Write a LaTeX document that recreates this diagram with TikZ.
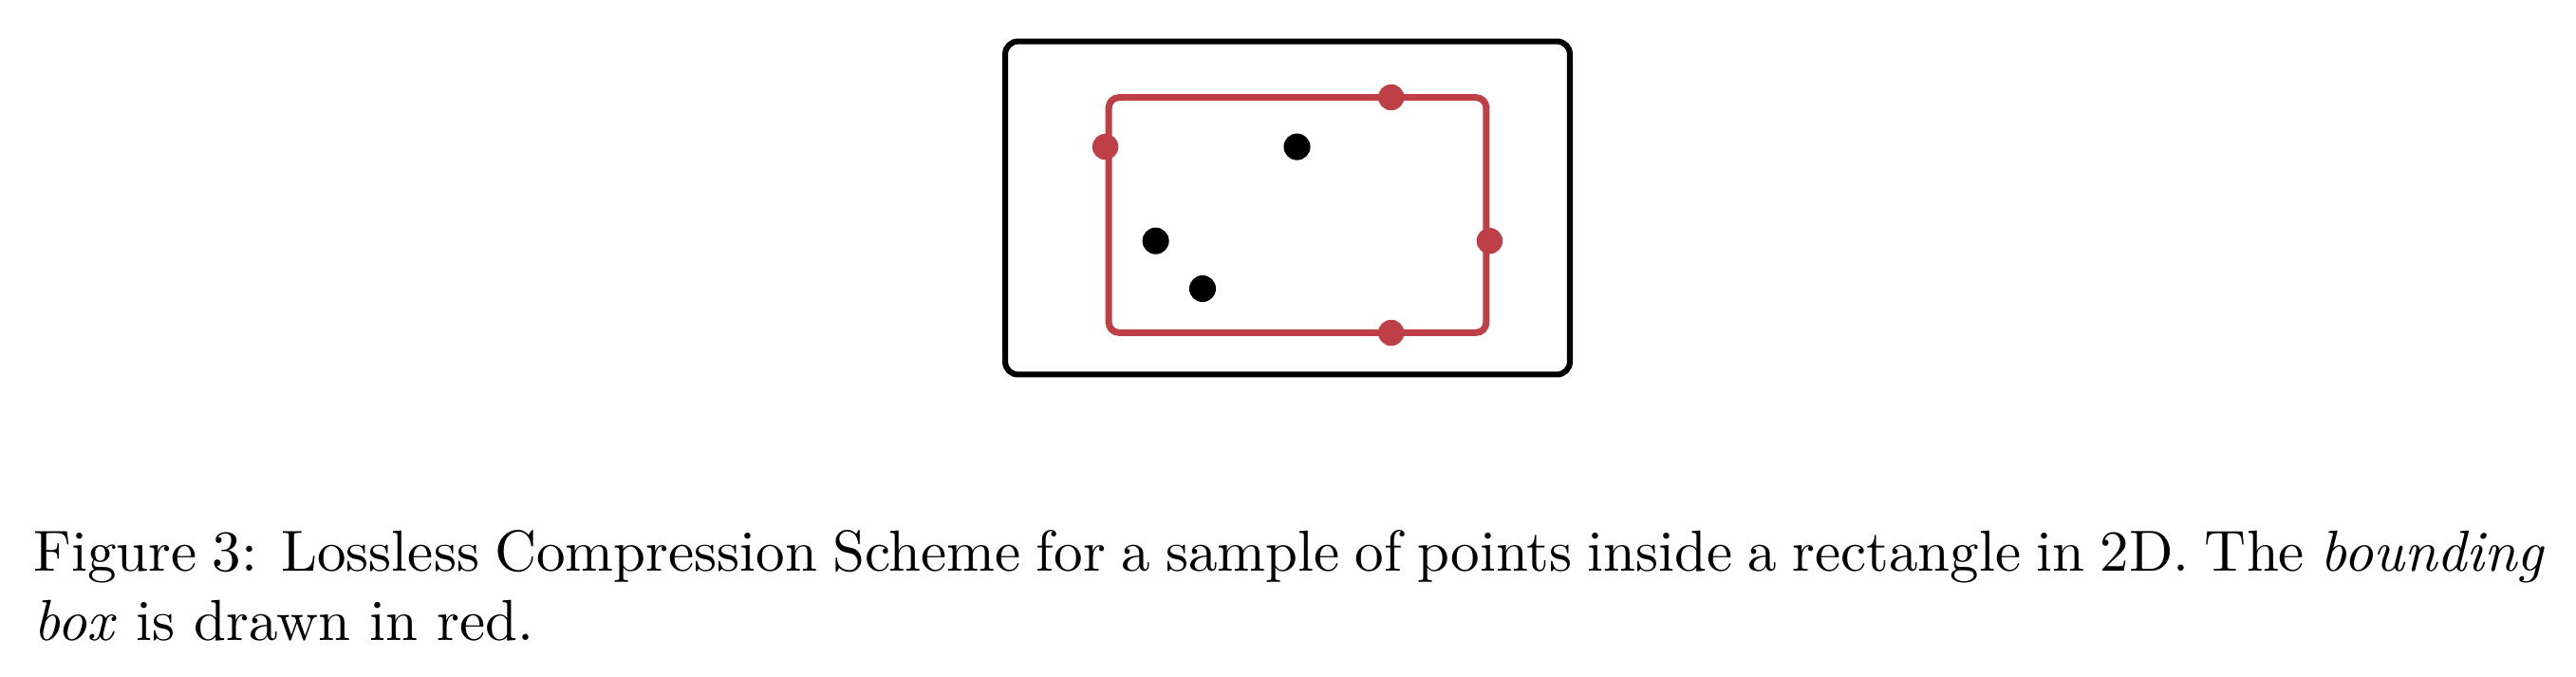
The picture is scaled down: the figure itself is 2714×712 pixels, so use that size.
\documentclass[tikz,border=0pt]{standalone}
\usepackage{xcolor}
\usepackage{tikz}
\definecolor{boxred}{RGB}{190,64,70}

\begin{document}
\begin{tikzpicture}[
    x=0.1639pt, y=-0.1639pt,
    frame/.style={rectangle, draw, line width=1pt, rounded corners=2.2pt, minimum width=97.5pt, minimum height=57.5pt, inner sep=0pt},
    bbox/.style={rectangle, draw=boxred, line width=1.15pt, rounded corners=1.8pt, minimum width=65.2pt, minimum height=40.6pt, inner sep=0pt},
    pt/.style={circle, fill=black, minimum size=4.6pt, inner sep=0pt},
    extreme/.style={circle, fill=boxred, minimum size=4.5pt, inner sep=0pt}
]
    \useasboundingbox (0,0) rectangle (2714,712);

    % Boxes
    \node[frame] (outer) at (1356.5,219) {};
    \node[bbox]  (bbox)  at (1367,226.5) {};

    % Sample points
    \node[pt] (p1) at (1366.5,154.6) {};
    \node[pt] (p2) at (1217.6,253.7) {};
    \node[pt] (p3) at (1267,304) {};

    % Extreme points
    \node[extreme] (left)   at (bbox.west |- p1) {};
    \node[extreme] (top)    at (1465.7,102.5) {};
    \node[extreme] (right)  at (bbox.east |- p2) {};
    \node[extreme] (bottom) at (1465.7,350.5) {};

    % Caption
    \node[anchor=base west, inner sep=0pt] (caption) at (34,601)
        {\parbox[t]{433.7pt}{Figure 3: Lossless Compression Scheme for a sample of points inside a rectangle in 2D. The \emph{bounding}\linebreak \emph{box} is drawn in red.}};
\end{tikzpicture}
\end{document}
